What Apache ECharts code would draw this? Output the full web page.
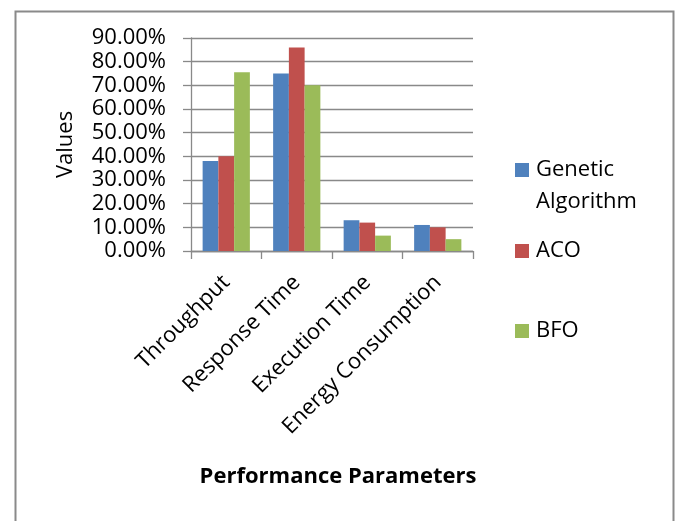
<!DOCTYPE html>
<html>
<head>
<meta charset="utf-8">
<script src="https://cdn.jsdelivr.net/npm/echarts@6/dist/echarts.min.js"></script>
<style>
  html, body { margin: 0; padding: 0; background: #fff; }
  #chart { width: 678px; height: 521px; }
</style>
</head>
<body>
<div id="chart"></div>
<script>
// Performance comparison of three scheduling algorithms (values in %)
const categories = ['Throughput', 'Response Time', 'Execution Time', 'Energy Consumption'];
const seriesNames = ['Genetic Algorithm', 'ACO', 'BFO'];
const geneticValues = [38, 75, 13, 11];
const acoValues = [40, 86, 12, 10];
const bfoValues = [75.5, 70, 6.5, 5];
const yTicks = [0, 10, 20, 30, 40, 50, 60, 70, 80, 90];

const colors = ['#4f81bd', '#c0504d', '#9bbb59'];
const FONT = '"Open Sans", "Noto Sans", sans-serif';
const axisGray = '#898989';

const chart = echarts.init(document.getElementById('chart'), null, { renderer: 'canvas' });

function legendBlock(name, text, top) {
  return {
    show: true,
    orient: 'vertical',
    left: 515,
    top: top,
    padding: 0,
    icon: 'rect',
    itemWidth: 14,
    itemHeight: 14,
    itemGap: 0,
    selectedMode: false,
    data: [name],
    formatter: () => text,
    textStyle: { fontFamily: FONT, fontSize: 22, color: '#000', lineHeight: 32, padding: [0, 0, 0, 2] }
  };
}

chart.setOption({
  animation: false,
  backgroundColor: '#fff',
  color: colors,
  graphic: [{
    type: 'rect',
    left: 13,
    top: 9,
    shape: { width: 658, height: 540 },
    style: { fill: 'none', stroke: '#8a8a8a', lineWidth: 2 },
    silent: true
  }],
  grid: { left: 191, right: 205, top: 38, bottom: 270 },
  legend: [
    legendBlock(seriesNames[0], '\nGenetic\nAlgorithm', 122),
    legendBlock(seriesNames[1], 'ACO', 235),
    legendBlock(seriesNames[2], 'BFO', 315)
  ],
  xAxis: {
    type: 'category',
    data: categories,
    name: 'Performance Parameters',
    nameLocation: 'middle',
    nameGap: 215,
    nameTextStyle: { fontFamily: FONT, fontSize: 22, fontWeight: 'bold', color: '#000', padding: [0, 0, 0, 12] },
    axisLine: { lineStyle: { color: axisGray, width: 1.3 } },
    axisTick: { show: true, alignWithLabel: false, length: 8, lineStyle: { color: axisGray, width: 1.3 } },
    axisLabel: {
      rotate: 45,
      margin: 28,
      interval: 0,
      fontFamily: FONT,
      fontSize: 22,
      color: '#000'
    },
    splitLine: { show: false }
  },
  yAxis: {
    type: 'value',
    min: yTicks[0],
    max: yTicks[yTicks.length - 1],
    interval: 10,
    name: 'Values',
    nameLocation: 'middle',
    nameGap: 114,
    nameTextStyle: { fontFamily: FONT, fontSize: 22, color: '#000' },
    axisLine: { show: true, lineStyle: { color: axisGray, width: 1.3 } },
    axisTick: { show: true, length: 8, lineStyle: { color: axisGray, width: 1.3 } },
    axisLabel: {
      margin: 25,
      fontFamily: FONT,
      fontSize: 22,
      color: '#000',
      formatter: v => v.toFixed(2) + '%'
    },
    splitLine: { show: true, lineStyle: { color: axisGray, width: 1.3 } }
  },
  series: [
    { name: seriesNames[0], type: 'bar', data: geneticValues, barGap: '0%', barCategoryGap: '33%' },
    { name: seriesNames[1], type: 'bar', data: acoValues, barGap: '0%', barCategoryGap: '33%' },
    { name: seriesNames[2], type: 'bar', data: bfoValues, barGap: '0%', barCategoryGap: '33%' }
  ]
});
</script>
</body>
</html>
